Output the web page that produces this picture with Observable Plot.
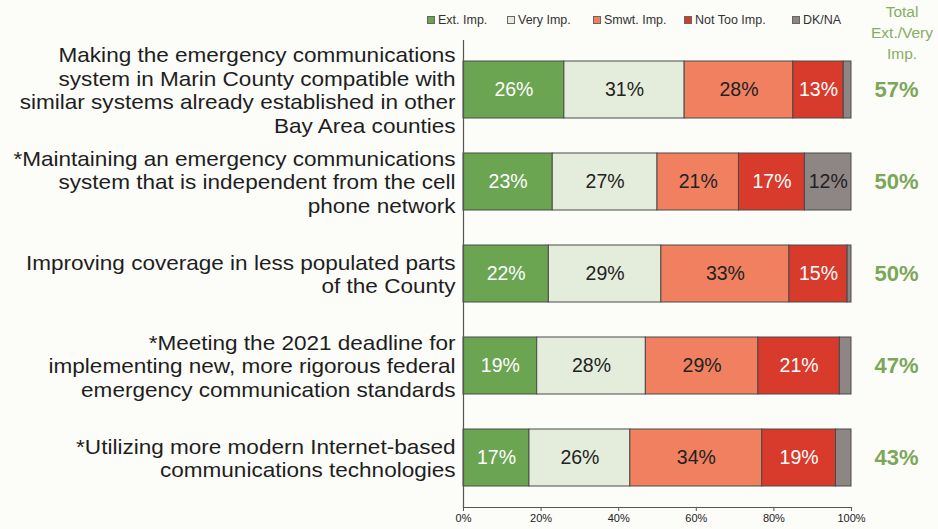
<!DOCTYPE html>
<html>
<head>
<meta charset="utf-8">
<script src="https://cdn.jsdelivr.net/npm/d3@7"></script>
<script src="https://cdn.jsdelivr.net/npm/@observablehq/plot@0.6"></script>
<style>
  html, body { margin: 0; padding: 0; background: #fcfcf9; }
  #wrap { position: relative; width: 938px; height: 529px; font-family: "Liberation Sans", Arial, sans-serif; }
  #legend { position: absolute; left: 0; top: 12px; width: 938px; height: 18px; font-size: 12.5px; color: #333; white-space: nowrap; }
  #legend span.item { position: absolute; top: 0; display: flex; align-items: center; height: 16px; }
  #legend span.sw { display: inline-block; width: 6px; height: 6px; border: 1px solid #666; margin-right: 3px; }
  #total { position: absolute; left: 860px; top: 1px; width: 84px; text-align: center; font-size: 15.5px; line-height: 21px; color: #86ad64; }
</style>
</head>
<body>
<div id="wrap">
  <div id="chart"></div>
  <div id="legend"></div>
  <div id="total">Total<br>Ext./Very<br>Imp.</div>
</div>
<script>
const items = [
  "Making the emergency communications\nsystem in Marin County compatible with\nsimilar systems already established in other\nBay Area counties",
  "*Maintaining an emergency communications\nsystem that is independent from the cell\nphone network",
  "Improving coverage in less populated parts\nof the County",
  "*Meeting the 2021 deadline for\nimplementing new, more rigorous federal\nemergency communication standards",
  "*Utilizing more modern Internet-based\ncommunications technologies"
];
const categories = ["Ext. Imp.", "Very Imp.", "Smwt. Imp.", "Not Too Imp.", "DK/NA"];
const extImp   = [26, 23, 22, 19, 17];
const veryImp  = [31, 27, 29, 28, 26];
const smwtImp  = [28, 21, 33, 29, 34];
const notTooImp= [13, 17, 15, 21, 19];
const dkna     = [2, 12, 1, 3, 4];
const totals   = [57, 50, 50, 47, 43];
const xTicks   = [0, 20, 40, 60, 80, 100];

const colors = ["#6ca552", "#e4eddb", "#f0805f", "#d83a2c", "#8e8684"];
const textColors = ["#ffffff", "#222222", "#222222", "#ffffff", "#222222"];
const legendLeft = [427, 507, 593, 684, 792];

const series = [extImp, veryImp, smwtImp, notTooImp, dkna];
const data = [];
items.forEach((item, i) => {
  series.forEach((s, k) => {
    data.push({item, cat: categories[k], value: s[i], k});
  });
});
const totalData = items.map((item, i) => ({item, total: totals[i]}));

const font = "'Liberation Sans', Arial, sans-serif";

const plot = Plot.plot({
  width: 938,
  height: 529,
  marginLeft: 463,
  marginRight: 87,
  marginTop: 40,
  marginBottom: 22,
  style: {fontFamily: font, background: "transparent", overflow: "visible"},
  x: {domain: [0, 100], ticks: xTicks, tickFormat: d => d + "%", label: null},
  y: {domain: items, paddingInner: 0.376, paddingOuter: 0.2, axis: null},
  color: {domain: categories, range: colors},
  marks: [
    Plot.barX(data, Plot.stackX({
      x: "value", y: "item", fill: "cat", order: categories,
      stroke: "#4a4a4a", strokeWidth: 1
    })),
    Plot.text(data, Plot.stackX({
      x: "value", y: "item", z: "cat", order: categories,
      text: d => d.value >= 5 ? d.value + "%" : "",
      fill: d => textColors[d.k],
      fontSize: 19.5
    })),
    Plot.text(items, {
      x: 0, y: d => d, text: d => d, className: "rowlabels",
      textAnchor: "end", dx: -8, fontSize: 20.5, lineHeight: 1.14, fill: "#1e1e1e"
    }),
    Plot.text(totalData, {
      x: 100, y: "item", text: d => d.total + "%",
      textAnchor: "middle", dx: 45, fontSize: 22, fontWeight: "bold", fill: "#7ba75a"
    }),
    Plot.ruleX([0], {stroke: "#555", strokeWidth: 1.2}),
    Plot.frame({anchor: "bottom", stroke: "#555", strokeWidth: 1.2}),
    Plot.axisX({ticks: xTicks, tickFormat: d => d + "%", label: null, tickSize: 4, tickPadding: 3, fontSize: 11, stroke: "#555", color: "#222"})
  ]
});
document.getElementById("chart").appendChild(plot);

// widen the row labels horizontally, anchored at their right edge
const lab = plot.querySelector("g.rowlabels");
if (lab) {
  const wrapper = document.createElementNS("http://www.w3.org/2000/svg", "g");
  wrapper.setAttribute("transform", "translate(455,0) scale(1.1,1) translate(-455,0)");
  lab.parentNode.insertBefore(wrapper, lab);
  wrapper.appendChild(lab);
}

const legend = document.getElementById("legend");
categories.forEach((c, k) => {
  const it = document.createElement("span");
  it.className = "item";
  it.style.left = legendLeft[k] + "px";
  it.innerHTML = `<span class="sw" style="background:${colors[k]}"></span>${c}`;
  legend.appendChild(it);
});
</script>
</body>
</html>
